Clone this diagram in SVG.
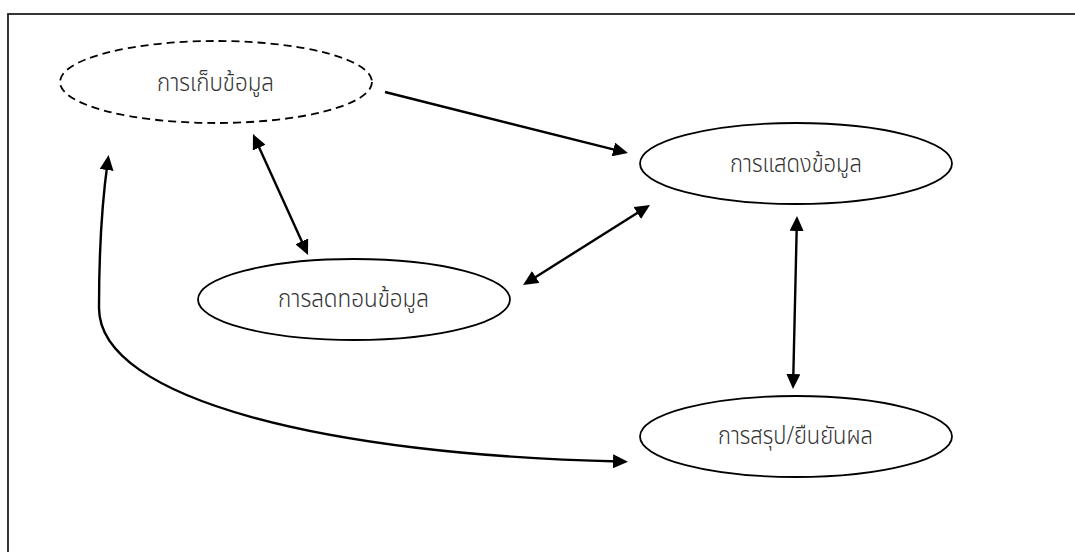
<svg xmlns="http://www.w3.org/2000/svg" width="1075" height="552" viewBox="0 0 1075 552">
<style>
.node ellipse{fill:#fff;stroke:#000;stroke-width:1.8}
.dashed ellipse{stroke-dasharray:8 5}
.lbl{font-family:"Noto Sans Thai","Noto Sans","DejaVu Sans",sans-serif;font-size:25px;font-weight:300;fill:#333;text-anchor:middle}
.conn path{fill:none;stroke:#000;stroke-width:2.4}
</style>
<defs>
<marker id="ah" viewBox="0 0 15 14" markerUnits="userSpaceOnUse" markerWidth="15" markerHeight="14" refX="7" refY="7" orient="auto-start-reverse">
<path d="M0,0 L15,7 L0,14 z" fill="#000"/>
</marker>
</defs>
<rect width="1075" height="552" fill="#fff"/>
<rect id="frame" x="8" y="14" width="1090" height="560" fill="none" stroke="#222" stroke-width="1.8"/>
<g id="n1" class="node dashed">
<ellipse cx="216" cy="82" rx="156" ry="41"/>
<text class="lbl" x="215.5" y="91" textLength="117" lengthAdjust="spacingAndGlyphs">การเก็บข้อมูล</text>
</g>
<g id="n2" class="node">
<ellipse cx="354" cy="299.5" rx="156" ry="40.5"/>
<text class="lbl" x="353.5" y="307" textLength="151" lengthAdjust="spacingAndGlyphs">การลดทอนข้อมูล</text>
</g>
<g id="n3" class="node">
<ellipse cx="796" cy="163.5" rx="156" ry="40.5"/>
<text class="lbl" x="796" y="172" textLength="132" lengthAdjust="spacingAndGlyphs">การแสดงข้อมูล</text>
</g>
<g id="n4" class="node">
<ellipse cx="796" cy="436.5" rx="156" ry="40.5"/>
<text class="lbl" x="795.5" y="444" textLength="155" lengthAdjust="spacingAndGlyphs">การสรุป/ยืนยันผล</text>
</g>
<g id="connectors" class="conn">
<path d="M385,92 L620.2,151.1" marker-end="url(#ah)"/>
<path d="M256.3,141.3 L304.7,247.7" marker-start="url(#ah)" marker-end="url(#ah)"/>
<path d="M529.8,280.7 L643.2,209.3" marker-start="url(#ah)" marker-end="url(#ah)"/>
<path d="M796.8,224 L793.2,381" marker-start="url(#ah)" marker-end="url(#ah)"/>
<path d="M107.5,163 Q99,225 99,308 C99,400 330,455 620,461.5" marker-start="url(#ah)" marker-end="url(#ah)"/>
</g>
</svg>
